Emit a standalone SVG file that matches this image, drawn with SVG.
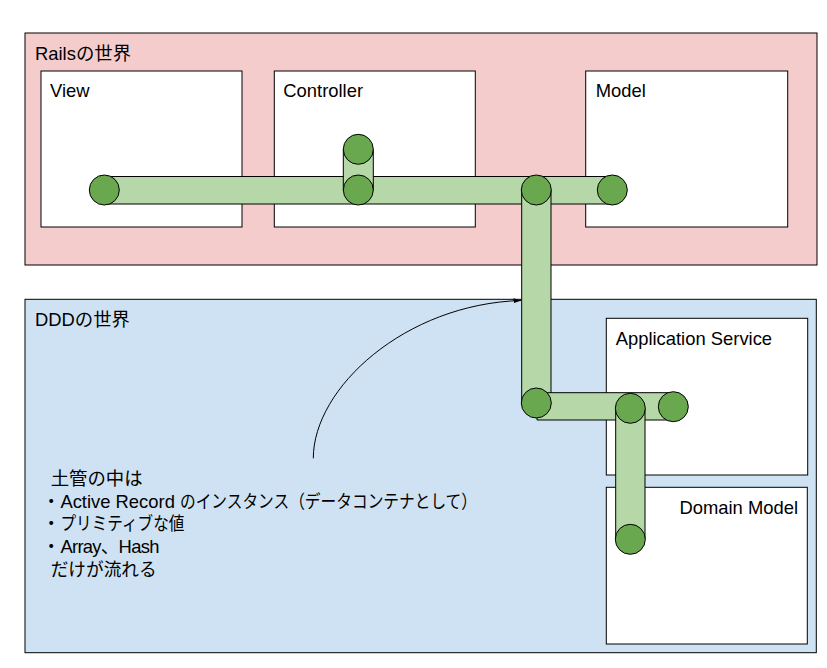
<svg xmlns="http://www.w3.org/2000/svg" width="827" height="668" viewBox="0 0 827 668">
<defs>
<style>
.lbl{font-family:"Liberation Sans","Noto Sans CJK JP",sans-serif;font-size:18.4px;fill:#000}
.box{fill:#fff;stroke:#000;stroke-width:1}
.pipe{fill:#b6d7a8;stroke:none}
.pline{stroke:#000;stroke-width:1;fill:none}
.cap{fill:#6aa84f;stroke:#000;stroke-width:1}
</style>
<marker id="arr" markerWidth="8" markerHeight="6" refX="7.5" refY="3" orient="auto" markerUnits="userSpaceOnUse">
<path d="M0,0.5 L7.5,3 L0,5.5 Z" fill="#000"/>
</marker>
</defs>
<rect width="827" height="668" fill="#fff"/>

<g id="rails-world">
<rect x="25" y="33" width="792" height="232" fill="#f4cccc" stroke="#000" stroke-width="1"/>
<text class="lbl" x="35" y="60">Railsの世界</text>
</g>
<g id="view">
<rect class="box" x="41" y="71" width="201" height="156"/>
<text class="lbl" x="50" y="97">View</text>
</g>
<g id="controller">
<rect class="box" x="274.3" y="71" width="201" height="156"/>
<text class="lbl" x="283.3" y="97">Controller</text>
</g>
<g id="model">
<rect class="box" x="585.7" y="71" width="202" height="156"/>
<text class="lbl" x="595.7" y="97">Model</text>
</g>

<g id="ddd-world">
<rect x="25" y="299.3" width="791.3" height="353.4" fill="#cfe2f3" stroke="#000" stroke-width="1"/>
<text class="lbl" x="35" y="326">DDDの世界</text>
</g>
<g id="application-service">
<rect class="box" x="606.3" y="318.3" width="201.4" height="156.7"/>
<text class="lbl" x="615.7" y="345">Application Service</text>
</g>
<g id="domain-model">
<rect class="box" x="606.3" y="487.3" width="201" height="156.7"/>
<text class="lbl" x="798" y="514" text-anchor="end">Domain Model</text>
</g>

<g id="note">
<text class="lbl" x="50.7" y="485">土管の中は</text>
<text class="lbl" x="42" y="507.5">・Active Record <tspan textLength="297" lengthAdjust="spacingAndGlyphs">のインスタンス（データコンテナとして）</tspan></text>
<text class="lbl" x="42" y="530">・<tspan textLength="124" lengthAdjust="spacingAndGlyphs">プリミティブな値</tspan></text>
<text class="lbl" x="42" y="553">・<tspan textLength="99" lengthAdjust="spacing">Array、Hash</tspan></text>
<text class="lbl" x="50.7" y="575.5" textLength="106" lengthAdjust="spacingAndGlyphs">だけが流れる</text>
</g>

<g id="connectors">
<path d="M313.3,458.3 C313.3,388 405,304 521,300.5" fill="none" stroke="#000" stroke-width="1" marker-end="url(#arr)"/>
</g>

<g id="pipes">
<rect class="pipe" x="104.3" y="176.5" width="508" height="27.5"/>
<line class="pline" x1="104.3" y1="176.5" x2="612.3" y2="176.5"/>
<line class="pline" x1="104.3" y1="204" x2="612.3" y2="204"/>
<rect class="pipe" x="343.3" y="149.3" width="30" height="40.7"/>
<line class="pline" x1="343.3" y1="149.3" x2="343.3" y2="190"/>
<line class="pline" x1="373.3" y1="149.3" x2="373.3" y2="190"/>
<rect class="pipe" x="521.7" y="190" width="29.3" height="213"/>
<line class="pline" x1="521.7" y1="190" x2="521.7" y2="403"/>
<line class="pline" x1="551" y1="190" x2="551" y2="403"/>
<rect class="pipe" x="537" y="392.7" width="136.3" height="27.3"/>
<line class="pline" x1="537" y1="392.7" x2="673.3" y2="392.7"/>
<line class="pline" x1="537" y1="420" x2="673.3" y2="420"/>
<line class="pline" x1="537" y1="392.7" x2="537" y2="420"/>
<rect class="pipe" x="615.7" y="408.3" width="29.3" height="131"/>
<line class="pline" x1="615.7" y1="408.3" x2="615.7" y2="539.3"/>
<line class="pline" x1="645" y1="408.3" x2="645" y2="539.3"/>
<circle class="cap" cx="104.3" cy="190" r="15"/>
<circle class="cap" cx="358.3" cy="149.3" r="15"/>
<circle class="cap" cx="358.3" cy="190" r="15"/>
<circle class="cap" cx="536.3" cy="190" r="15"/>
<circle class="cap" cx="612.3" cy="190" r="15"/>
<circle class="cap" cx="536.3" cy="403" r="15"/>
<circle class="cap" cx="673.3" cy="406.7" r="15"/>
<circle class="cap" cx="630.3" cy="408.3" r="15"/>
<circle class="cap" cx="630.3" cy="539.3" r="15"/>
</g>
</svg>
